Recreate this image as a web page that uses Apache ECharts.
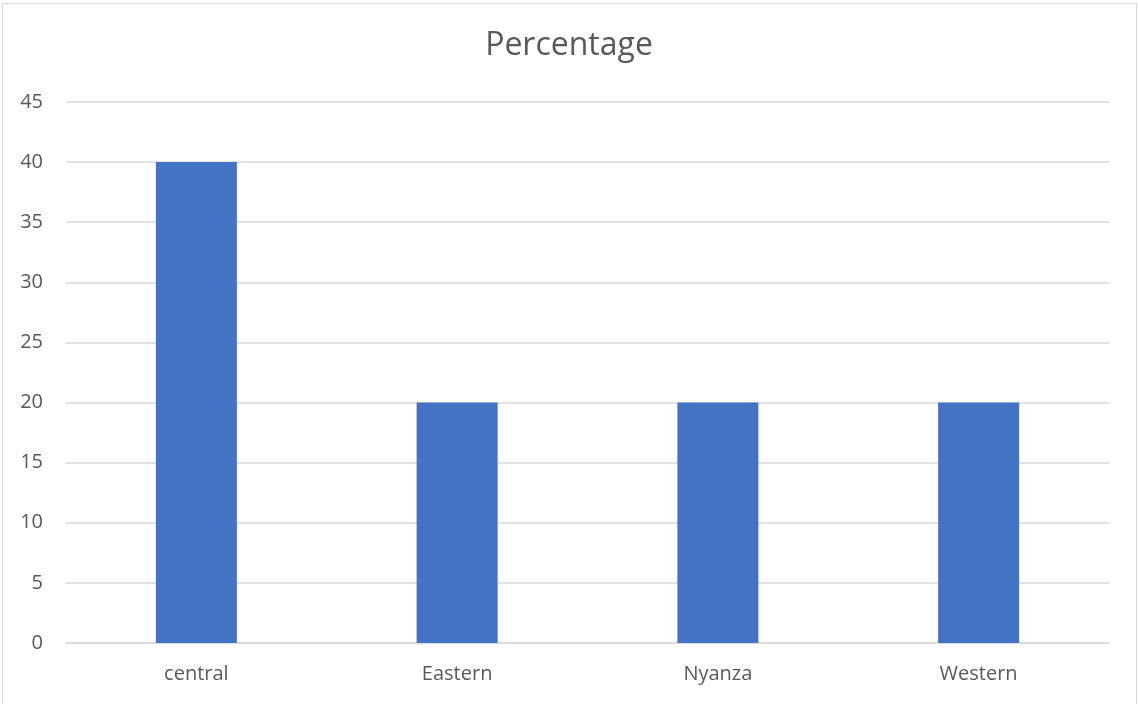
<!DOCTYPE html>
<html>
<head>
<meta charset="utf-8">
<script src="https://cdn.jsdelivr.net/npm/echarts@6/dist/echarts.min.js"></script>
<style>
  html, body { margin: 0; padding: 0; background: #fff; }
  #frame { position: absolute; left: 2px; top: 3px; width: 1135px; height: 702px; border: 1px solid #d9d9d9; box-sizing: border-box; }
  #chart { position: absolute; left: 0; top: 0; width: 1138px; height: 704px; }
</style>
</head>
<body>
<div id="frame"></div>
<div id="chart"></div>
<script>
// data
const regions = ['central', 'Eastern', 'Nyanza', 'Western'];
const percentages = [40, 20, 20, 20];

function initPercentageChart() {
    const chart = echarts.init(document.getElementById('chart'), null, { renderer: 'canvas' });
    const textColor = '#595959';
    const gridColor = '#d9d9d9';

    const option = {
        backgroundColor: 'transparent',
        animation: false,
        title: {
            text: 'Percentage',
            left: 'center',
            top: 25,
            textStyle: {
                fontFamily: 'Open Sans',
                fontSize: 32,
                fontWeight: 'normal',
                color: textColor
            }
        },
        grid: {
            left: 66,
            right: 29,
            top: 102,
            bottom: 61
        },
        xAxis: {
            type: 'category',
            data: regions,
            axisLine: { lineStyle: { color: gridColor, width: 1.5 } },
            axisTick: { show: false },
            axisLabel: {
                fontFamily: 'Open Sans',
                fontSize: 20,
                color: textColor,
                margin: 21
            }
        },
        yAxis: {
            type: 'value',
            min: 0,
            max: 45,
            interval: 5,
            axisLine: { show: false },
            axisTick: { show: false },
            splitLine: { lineStyle: { color: gridColor, width: 1.5 } },
            axisLabel: {
                fontFamily: 'Open Sans',
                fontSize: 20,
                color: textColor,
                margin: 23
            }
        },
        series: [{
            name: 'Percentage',
            type: 'bar',
            data: percentages,
            barWidth: 81,
            itemStyle: { color: '#4472c4' }
        }]
    };

    chart.setOption(option);
}

window.onload = function() {
    initPercentageChart();
};
</script>
</body>
</html>
